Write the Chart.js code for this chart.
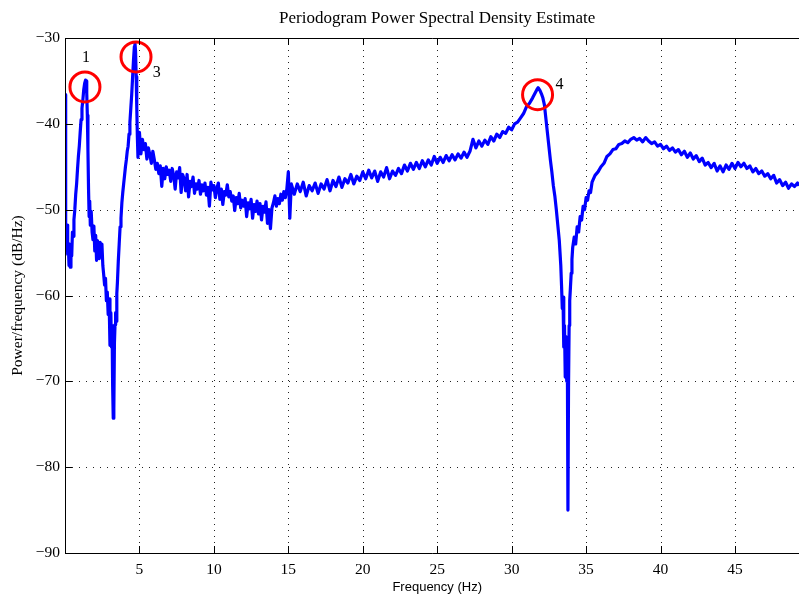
<!DOCTYPE html>
<html>
<head>
<meta charset="utf-8">
<script src="https://cdn.jsdelivr.net/npm/chart.js@4.4.0/dist/chart.umd.min.js"></script>
<style>
  html, body { margin: 0; padding: 0; background: #fff; overflow: hidden; }
  #psd { display: block; }
</style>
</head>
<body>
<canvas id="psd" width="799" height="597"></canvas>
<script>
// periodogram (Hz, dB/Hz)
const freqHz = [
  0.00, 0.03, 0.06, 0.10, 0.14, 0.18, 0.22, 0.27, 0.31, 0.35,
  0.40, 0.45, 0.50, 0.55, 0.60, 0.66, 0.72, 0.78, 0.84, 0.90,
  0.96, 1.02, 1.08, 1.14, 1.20, 1.26, 1.32, 1.38, 1.42, 1.46,
  1.50, 1.54, 1.58, 1.62, 1.66, 1.70, 1.76, 1.82, 1.88, 1.94,
  2.00, 2.06, 2.12, 2.18, 2.24, 2.30, 2.36, 2.42, 2.48, 2.54,
  2.60, 2.66, 2.72, 2.78, 2.84, 2.90, 2.96, 3.02, 3.08, 3.12,
  3.16, 3.20, 3.24, 3.28, 3.32, 3.36, 3.40, 3.44, 3.48, 3.52,
  3.58, 3.64, 3.70, 3.76, 3.82, 3.88, 3.94, 4.00, 4.06, 4.12,
  4.18, 4.24, 4.30, 4.36, 4.42, 4.48, 4.54, 4.60, 4.66, 4.70,
  4.74, 4.78, 4.82, 4.86, 4.90, 4.94,
  5.0, 5.1, 5.2, 5.3, 5.4, 5.5, 5.6, 5.7, 5.8, 5.9,
  6.0, 6.1, 6.2, 6.3, 6.4, 6.5, 6.6, 6.7, 6.8, 6.9,
  7.0, 7.1, 7.2, 7.3, 7.4, 7.5, 7.6, 7.7, 7.8, 7.9,
  8.0, 8.1, 8.2, 8.3, 8.4, 8.5, 8.6, 8.7, 8.8, 8.9,
  9.0, 9.1, 9.2, 9.3, 9.4, 9.5, 9.6, 9.7, 9.8, 9.9,
  10.0, 10.1, 10.2, 10.3, 10.4, 10.5, 10.6, 10.7, 10.8, 10.9,
  11.0, 11.1, 11.2, 11.3, 11.4, 11.5, 11.6, 11.7, 11.8, 11.9,
  12.0, 12.1, 12.2, 12.3, 12.4, 12.5, 12.6, 12.7, 12.8, 12.9,
  13.0, 13.1, 13.2, 13.3, 13.4, 13.5, 13.6, 13.7, 13.8, 13.9,
  14.0, 14.1, 14.2, 14.3, 14.4, 14.5, 14.6, 14.7, 14.8, 14.9,
  15.0, 15.1, 15.2, 15.4, 15.6, 15.8, 16.0, 16.2, 16.4, 16.6,
  16.8, 17.0, 17.2, 17.4, 17.6, 17.8, 18.0, 18.2, 18.4, 18.6,
  18.8, 19.0, 19.2, 19.4, 19.6, 19.8, 20.0, 20.2, 20.4, 20.6,
  20.8, 21.0, 21.2, 21.4, 21.6, 21.8, 22.0, 22.2, 22.4, 22.6,
  22.8, 23.0, 23.2, 23.4, 23.6, 23.8, 24.0, 24.2, 24.4, 24.6,
  24.8, 25.0, 25.2, 25.4, 25.6, 25.8, 26.0, 26.2, 26.4, 26.6,
  26.8, 27.0, 27.2, 27.4, 27.6, 27.8, 28.0, 28.2, 28.4, 28.6,
  28.8, 29.0, 29.2, 29.4, 29.6, 29.8, 30.0, 30.2, 30.4, 30.6,
  30.8, 31.0, 31.2, 31.4, 31.55, 31.7, 31.78, 31.9, 32.0, 32.1,
  32.2, 32.3, 32.4, 32.5, 32.6, 32.7, 32.8, 32.9, 33.0, 33.1,
  33.2, 33.3, 33.35, 33.4, 33.45, 33.5, 33.55, 33.6, 33.65, 33.7,
  33.74, 33.78, 33.82, 33.86, 33.9, 33.95, 34.0, 34.05, 34.1, 34.2,
  34.3, 34.4, 34.5, 34.6, 34.7, 34.8, 34.9, 35.0, 35.1, 35.2,
  35.3, 35.4, 35.6, 35.8, 36.0, 36.2, 36.4, 36.6, 36.8, 37.0,
  37.2, 37.4, 37.6, 37.8, 38.0, 38.2, 38.4, 38.6, 38.8, 39.0,
  39.2, 39.4, 39.6, 39.8, 40.0, 40.2, 40.4, 40.6, 40.8, 41.0,
  41.2, 41.4, 41.6, 41.8, 42.0, 42.2, 42.4, 42.6, 42.8, 43.0,
  43.2, 43.4, 43.6, 43.8, 44.0, 44.2, 44.4, 44.6, 44.8, 45.0,
  45.2, 45.4, 45.6, 45.8, 46.0, 46.2, 46.4, 46.6, 46.8, 47.0,
  47.2, 47.4, 47.6, 47.8, 48.0, 48.2, 48.4, 48.6, 48.8, 49.0,
  49.2, 49.3
];
const powerDb = [
  -36.6, -44.0, -51.5, -53.8, -51.8, -55.2, -53.9, -56.5, -55.0, -56.7,
  -54.0, -55.4, -52.6, -53.1, -51.2, -50.0, -48.2, -47.0, -45.3, -43.8,
  -42.6, -41.0, -39.5, -38.2, -37.2, -36.0, -35.3, -34.9, -35.0, -36.4,
  -39.0, -43.0, -47.5, -50.8, -49.0, -51.8, -50.2, -52.6, -53.5, -51.9,
  -54.8, -53.0, -55.9, -53.6, -54.4, -55.7, -53.8, -55.1, -54.0, -56.5,
  -57.6, -58.8, -58.0, -60.6, -59.6, -62.2, -60.4, -65.8, -62.0, -66.0,
  -63.5, -70.5, -74.3, -73.2, -65.5, -63.4, -62.0, -63.0, -59.8, -58.5,
  -56.0, -54.0, -52.0, -51.0, -49.2, -48.0, -47.0, -46.0, -45.0, -44.2,
  -43.2, -42.6, -41.2, -39.8, -38.2, -36.6, -34.6, -32.6, -31.0, -30.6,
  -31.6, -34.5, -38.0, -41.5, -43.9, -42.2,
  -41.0, -43.5, -41.8, -43.0, -42.3, -44.1, -42.8, -43.6, -44.6, -43.2,
  -44.2, -45.3, -44.6, -45.8, -44.9, -47.3, -45.2, -46.4, -45.0, -45.9,
  -45.4, -46.7, -45.2, -46.0, -47.6, -45.6, -46.3, -45.1, -48.0, -45.9,
  -46.4, -47.8, -45.9, -48.5, -46.7, -47.3, -46.2, -48.1, -47.0, -47.6,
  -46.6, -48.2, -47.1, -47.8, -46.9, -48.3, -47.4, -49.6, -46.8, -47.7,
  -47.2, -48.6, -47.5, -46.9, -48.8, -47.6, -49.4, -47.9, -48.3, -47.1,
  -48.5, -47.9, -49.0, -48.4, -50.1, -48.6, -49.3, -48.1, -49.8, -48.9,
  -49.6, -48.7, -50.8, -49.2, -49.9, -48.8, -51.0, -49.4, -50.2, -49.0,
  -50.5, -49.3, -51.2, -49.6, -50.3, -49.1, -51.6, -50.0, -52.2, -49.8,
  -49.2, -48.4, -49.6, -48.7, -49.3, -48.2, -48.9, -47.9, -48.6, -47.6,
  -45.6, -51.0, -47.0, -48.2, -47.0, -47.9, -46.8, -48.4, -47.2, -47.8,
  -46.9, -48.1, -47.0, -47.6, -46.5, -47.8, -46.6, -47.3, -46.2, -47.4,
  -46.4, -46.9, -45.9, -47.0, -46.1, -46.6, -45.6, -46.4, -45.4, -46.3,
  -45.5, -46.7, -45.6, -46.2, -45.1, -46.4, -45.5, -46.0, -45.2, -45.8,
  -44.8, -45.5, -44.6, -45.3, -44.5, -45.2, -44.3, -45.0, -44.2, -44.8,
  -43.8, -44.6, -43.9, -44.5, -43.7, -44.3, -43.6, -44.2, -43.5, -44.0,
  -43.3, -43.9, -43.2, -41.8, -42.8, -42.0, -42.6, -41.9, -42.4, -41.5,
  -42.0, -41.2, -41.6, -40.9, -41.1, -40.4, -40.7, -40.0, -39.8, -39.3,
  -38.8, -38.0, -37.6, -37.0, -36.5, -36.0, -35.8, -36.1, -36.5, -37.0,
  -37.8, -39.4, -41.0, -42.6, -44.2, -45.6, -47.2, -48.4, -50.0, -51.8,
  -53.6, -56.5, -58.8, -61.5, -60.2, -66.0, -63.5, -69.5, -64.8, -70.0,
  -66.5, -85.0, -70.5, -63.5, -60.6, -59.0, -57.4, -55.8, -54.4, -53.2,
  -54.0, -52.0, -52.6, -50.8, -51.2, -49.6, -50.0, -48.6, -48.9, -47.8,
  -48.0, -46.8, -46.0, -45.6, -45.0, -44.6, -43.8, -43.5, -43.0, -42.9,
  -42.4, -42.3, -42.0, -42.2, -41.8, -41.6, -41.9, -41.7, -42.1, -41.6,
  -42.0, -42.3, -42.1, -42.6, -42.4, -42.9, -42.6, -43.1, -42.8, -43.3,
  -43.0, -43.6, -43.2, -43.9, -43.4, -44.1, -43.7, -44.4, -44.0, -44.8,
  -44.5, -45.1, -44.6, -45.5, -44.9, -45.6, -44.8, -45.3, -44.6, -45.2,
  -44.5, -45.0, -44.6, -45.2, -44.9, -45.6, -45.2, -45.8, -45.5, -46.1,
  -45.8, -46.4, -46.0, -46.9, -46.5, -47.2, -46.8, -47.5, -47.0, -47.3,
  -46.9, -47.2
];

// circled peaks and their labels
const circleFreq = [1.34, 4.77, 31.74];
const circleDb = [-35.7, -32.2, -36.6];
const peakLabels = ['1', '3', '4'];
const labelFreq = [1.41, 6.17, 33.22];
const labelDb = [-32.3, -34.0, -35.5];

const xTicks = [5, 10, 15, 20, 25, 30, 35, 40, 45];
const yTicks = [-90, -80, -70, -60, -50, -40, -30];

const serif = "'Liberation Serif', 'Times New Roman', serif";
const sans = "'Liberation Sans', Arial, sans-serif";

const axesPlugin = {
  id: 'matlabAxes',
  beforeDatasetsDraw(chart) {
    const { ctx, chartArea: a, scales: { x, y } } = chart;
    ctx.save();
    ctx.strokeStyle = '#222';
    ctx.lineWidth = 1;
    ctx.setLineDash([1, 5]);
    xTicks.forEach(v => {
      const px = Math.round(x.getPixelForValue(v)) + 0.5;
      ctx.beginPath(); ctx.moveTo(px, a.top); ctx.lineTo(px, a.bottom); ctx.stroke();
    });
    ctx.setLineDash([1, 6]);
    yTicks.forEach(v => {
      const py = Math.round(y.getPixelForValue(v)) + 0.5;
      ctx.beginPath(); ctx.moveTo(a.left, py); ctx.lineTo(a.right, py); ctx.stroke();
    });
    ctx.restore();
  },
  afterDatasetsDraw(chart) {
    const { ctx, chartArea: a, scales: { x, y } } = chart;
    ctx.save();
    // box + inward ticks
    ctx.strokeStyle = '#000';
    ctx.lineWidth = 1;
    ctx.setLineDash([]);
    ctx.beginPath();
    ctx.moveTo(a.right, a.top + 0.5); ctx.lineTo(a.left + 0.5, a.top + 0.5);
    ctx.lineTo(a.left + 0.5, a.bottom + 0.5); ctx.lineTo(a.right, a.bottom + 0.5);
    ctx.stroke();
    xTicks.forEach(v => {
      const px = Math.round(x.getPixelForValue(v)) + 0.5;
      ctx.beginPath();
      ctx.moveTo(px, a.bottom); ctx.lineTo(px, a.bottom - 7);
      ctx.moveTo(px, a.top); ctx.lineTo(px, a.top + 7);
      ctx.stroke();
    });
    yTicks.forEach(v => {
      const py = Math.round(y.getPixelForValue(v)) + 0.5;
      ctx.beginPath(); ctx.moveTo(a.left, py); ctx.lineTo(a.left + 7, py); ctx.stroke();
    });

    // peak numbers
    ctx.fillStyle = '#000';
    ctx.font = '16px ' + serif;
    ctx.textAlign = 'center';
    ctx.textBaseline = 'middle';
    peakLabels.forEach((t, i) => {
      ctx.fillText(t, x.getPixelForValue(labelFreq[i]), y.getPixelForValue(labelDb[i]));
    });

    // titles
    const midX = x.getPixelForValue(25);
    ctx.font = '17px ' + serif;
    ctx.fillText('Periodogram Power Spectral Density Estimate', midX, 19);
    ctx.font = '13px ' + sans;
    ctx.fillText('Frequency (Hz)', midX, 587);
    ctx.font = '15.5px ' + serif;
    ctx.translate(18, (a.top + a.bottom) / 2);
    ctx.rotate(-Math.PI / 2);
    ctx.fillText('Power/frequency (dB/Hz)', 0, 0);
    ctx.restore();
  }
};

new Chart(document.getElementById('psd'), {
  type: 'scatter',
  data: {
    datasets: [
      {
        label: 'peaks',
        data: circleFreq.map((f, i) => ({ x: f, y: circleDb[i] })),
        showLine: false,
        pointRadius: 15,
        pointHoverRadius: 15,
        pointBorderWidth: 3,
        pointBorderColor: '#ff0000',
        pointBackgroundColor: 'rgba(0,0,0,0)',
        clip: false,
        order: 0
      },
      {
        label: 'PSD',
        data: freqHz.map((f, i) => ({ x: f, y: powerDb[i] })),
        showLine: true,
        borderColor: '#0000ff',
        borderWidth: 3.2,
        pointRadius: 0,
        tension: 0,
        borderJoinStyle: 'round',
        order: 1
      }
    ]
  },
  options: {
    responsive: false,
    animation: false,
    devicePixelRatio: 1,
    layout: { autoPadding: false, padding: { top: 38, right: 0, bottom: 0, left: 0 } },
    plugins: { legend: { display: false }, tooltip: { enabled: false } },
    scales: {
      x: {
        type: 'linear',
        min: 0,
        max: 49.3,
        grid: { display: false, drawTicks: false },
        border: { display: false },
        afterBuildTicks: s => { s.ticks = xTicks.map(v => ({ value: v })); },
        afterFit: s => { s.height = 44; },
        ticks: {
          padding: 8,
          maxRotation: 0,
          color: '#000',
          font: { family: serif, size: 15.5 },
          callback: v => String(v)
        }
      },
      y: {
        min: -90,
        max: -30,
        grid: { display: false, drawTicks: false },
        border: { display: false },
        afterBuildTicks: s => { s.ticks = yTicks.map(v => ({ value: v })); },
        afterFit: s => { s.width = 65; },
        ticks: {
          padding: 5,
          color: '#000',
          font: { family: serif, size: 15.5 },
          callback: v => (v < 0 ? '\u2212' + Math.abs(v) : String(v))
        }
      }
    }
  },
  plugins: [axesPlugin]
});
</script>
</body>
</html>
